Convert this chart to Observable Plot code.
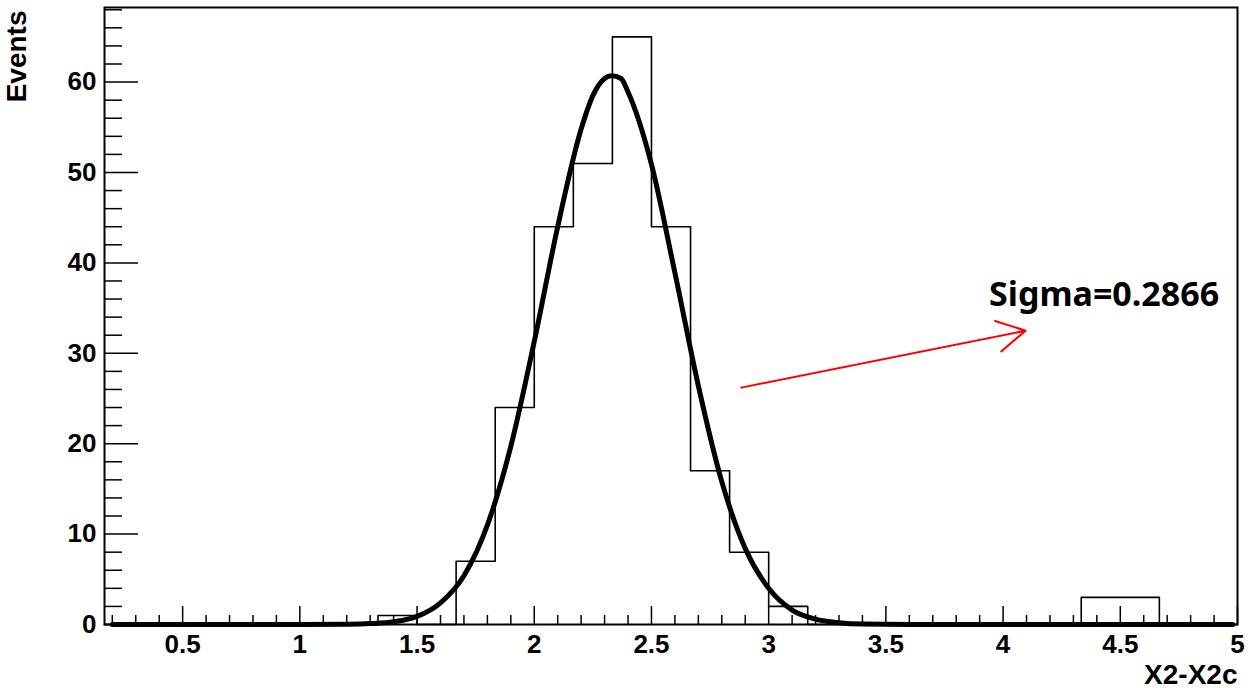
<!DOCTYPE html>
<html>
<head>
<meta charset="utf-8">
<script src="https://cdn.jsdelivr.net/npm/d3@7"></script>
<script src="https://cdn.jsdelivr.net/npm/@observablehq/plot@0.6"></script>
<style>
  html, body { margin: 0; padding: 0; background: #ffffff; overflow: hidden; }
  #chart svg { display: block; }
</style>
</head>
<body>
<div id="chart"></div>
<script>
// ---- Histogram data (29 bins of width 1/6 from 1/6 to 5) ----
const binEdges = [1/6, 2/6, 3/6, 4/6, 5/6, 6/6, 7/6, 8/6, 9/6, 10/6, 11/6, 12/6, 13/6, 14/6, 15/6,
                  16/6, 17/6, 18/6, 19/6, 20/6, 21/6, 22/6, 23/6, 24/6, 25/6, 26/6, 27/6, 28/6, 29/6, 30/6];
const binCounts = [0, 0, 0, 0, 0, 0, 0, 1, 0, 7, 24, 44, 51, 65, 44, 17, 8, 2, 0, 0, 0, 0, 0, 0, 0, 3, 3, 0, 0];

// ---- Gaussian fit curve ----
const fitX = [0.2, 1.0, 1.2, 1.3, 1.4, 1.5, 1.6, 1.7, 1.8, 1.9, 2.0, 2.1, 2.2, 2.25, 2.3, 2.33, 2.37, 2.4, 2.5, 2.6, 2.7, 2.8, 2.9, 3.0, 3.1, 3.2, 3.3, 3.4, 3.6, 4.98];
const fitY = [0, 0, 0.03, 0.1, 0.3, 0.9, 2.4, 5.4, 11, 19.7, 31.3, 44, 54.8, 58.5, 60.4, 60.7, 60.4, 58.9, 50.9, 38.9, 26.4, 15.8, 8.4, 4.0, 1.6, 0.6, 0.2, 0.05, 0, 0];

// ---- Axes ----
const xMajorTicks = [0.5, 1, 1.5, 2, 2.5, 3, 3.5, 4, 4.5, 5];
const xMinorTicks = [0.2, 0.3, 0.4, 0.6, 0.7, 0.8, 0.9, 1.1, 1.2, 1.3, 1.4, 1.6, 1.7, 1.8, 1.9,
                     2.1, 2.2, 2.3, 2.4, 2.6, 2.7, 2.8, 2.9, 3.1, 3.2, 3.3, 3.4, 3.6, 3.7, 3.8, 3.9,
                     4.1, 4.2, 4.3, 4.4, 4.6, 4.7, 4.8, 4.9];
const yMajorTicks = [0, 10, 20, 30, 40, 50, 60];
const yMinorTicks = [2, 4, 6, 8, 12, 14, 16, 18, 22, 24, 26, 28, 32, 34, 36, 38, 42, 44, 46, 48, 52, 54, 56, 58, 62, 64, 66, 68];
const xTitle = "X2-X2c";
const yTitle = "Events";

// ---- Annotation ----
const sigmaLabel = ["Sigma=0.2866"];
const sigmaPos = {x: 3.94, y: 35.2};
const arrowFrom = {x: 2.883, y: 26.2};
const arrowTo = {x: 4.096, y: 32.5};

// ---- Build tables ----
const stepPoints = binEdges.map((e, i) => ({x: e, y: i < binCounts.length ? binCounts[i] : binCounts[binCounts.length - 1]}));
const fitPoints = fitX.map((x, i) => ({x, y: fitY[i]}));

const W = 1250, H = 688;
const mL = 104, mR = 13, mT = 7, mB = 64;
const innerW = W - mL - mR, innerH = H - mT - mB;
const font = "'Liberation Sans', Arial, Helvetica, sans-serif";

const chart = Plot.plot({
  width: W,
  height: H,
  marginLeft: mL,
  marginRight: mR,
  marginTop: mT,
  marginBottom: mB,
  style: {fontFamily: font, background: "#ffffff", color: "#000000", overflow: "visible"},
  x: {domain: [1/6, 5]},
  y: {domain: [0, 68.25]},
  marks: [
    // histogram outline
    Plot.line(stepPoints, {x: "x", y: "y", curve: "step-after", stroke: "black", strokeWidth: 1.6}),
    // fit curve
    Plot.line(fitPoints, {x: "x", y: "y", curve: "monotone-x", stroke: "black", strokeWidth: 5, strokeLinejoin: "round"}),
    // ticks pointing inward (ROOT style)
    Plot.ruleX(xMajorTicks, {x: d => d, insetTop: innerH - 18, stroke: "black", strokeWidth: 1.5}),
    Plot.ruleX(xMinorTicks, {x: d => d, insetTop: innerH - 9, stroke: "black", strokeWidth: 1.5}),
    Plot.ruleY(yMajorTicks, {y: d => d, insetRight: innerW - 34, stroke: "black", strokeWidth: 1.5}),
    Plot.ruleY(yMinorTicks, {y: d => d, insetRight: innerW - 18, stroke: "black", strokeWidth: 1.5}),
    // tick labels
    Plot.axisX({ticks: xMajorTicks, tickSize: 0, tickPadding: 10, tickFormat: d => String(d), fontSize: 26, fontWeight: "bold", label: null}),
    Plot.axisY({ticks: yMajorTicks, tickSize: 0, tickPadding: 8, tickFormat: d => String(d), fontSize: 26, fontWeight: "bold", label: null}),
    // axis titles
    Plot.text([xTitle], {frameAnchor: "bottom-right", text: d => d, textAnchor: "end", lineAnchor: "bottom", dy: 59, fontSize: 28, fontWeight: "bold"}),
    Plot.text([yTitle], {frameAnchor: "top-left", text: d => d, rotate: -90, textAnchor: "end", lineAnchor: "bottom", dx: -79, dy: 3, fontSize: 28, fontWeight: "bold"}),
    // frame
    Plot.frame({stroke: "black", strokeWidth: 2}),
    // annotation
    Plot.arrow([{x1: arrowFrom.x, y1: arrowFrom.y, x2: arrowTo.x, y2: arrowTo.y}], {x1: "x1", y1: "y1", x2: "x2", y2: "y2", stroke: "#ff0000", strokeWidth: 2, headLength: 24, headAngle: 58, bend: 0}),
    Plot.text(sigmaLabel, {x: () => sigmaPos.x, y: () => sigmaPos.y, text: d => d, textAnchor: "start", lineAnchor: "bottom", fontSize: 34, fontWeight: "bold", fontFamily: "'Noto Sans', 'Open Sans', sans-serif", fill: "black"})
  ]
});
document.getElementById("chart").appendChild(chart);
</script>
</body>
</html>
